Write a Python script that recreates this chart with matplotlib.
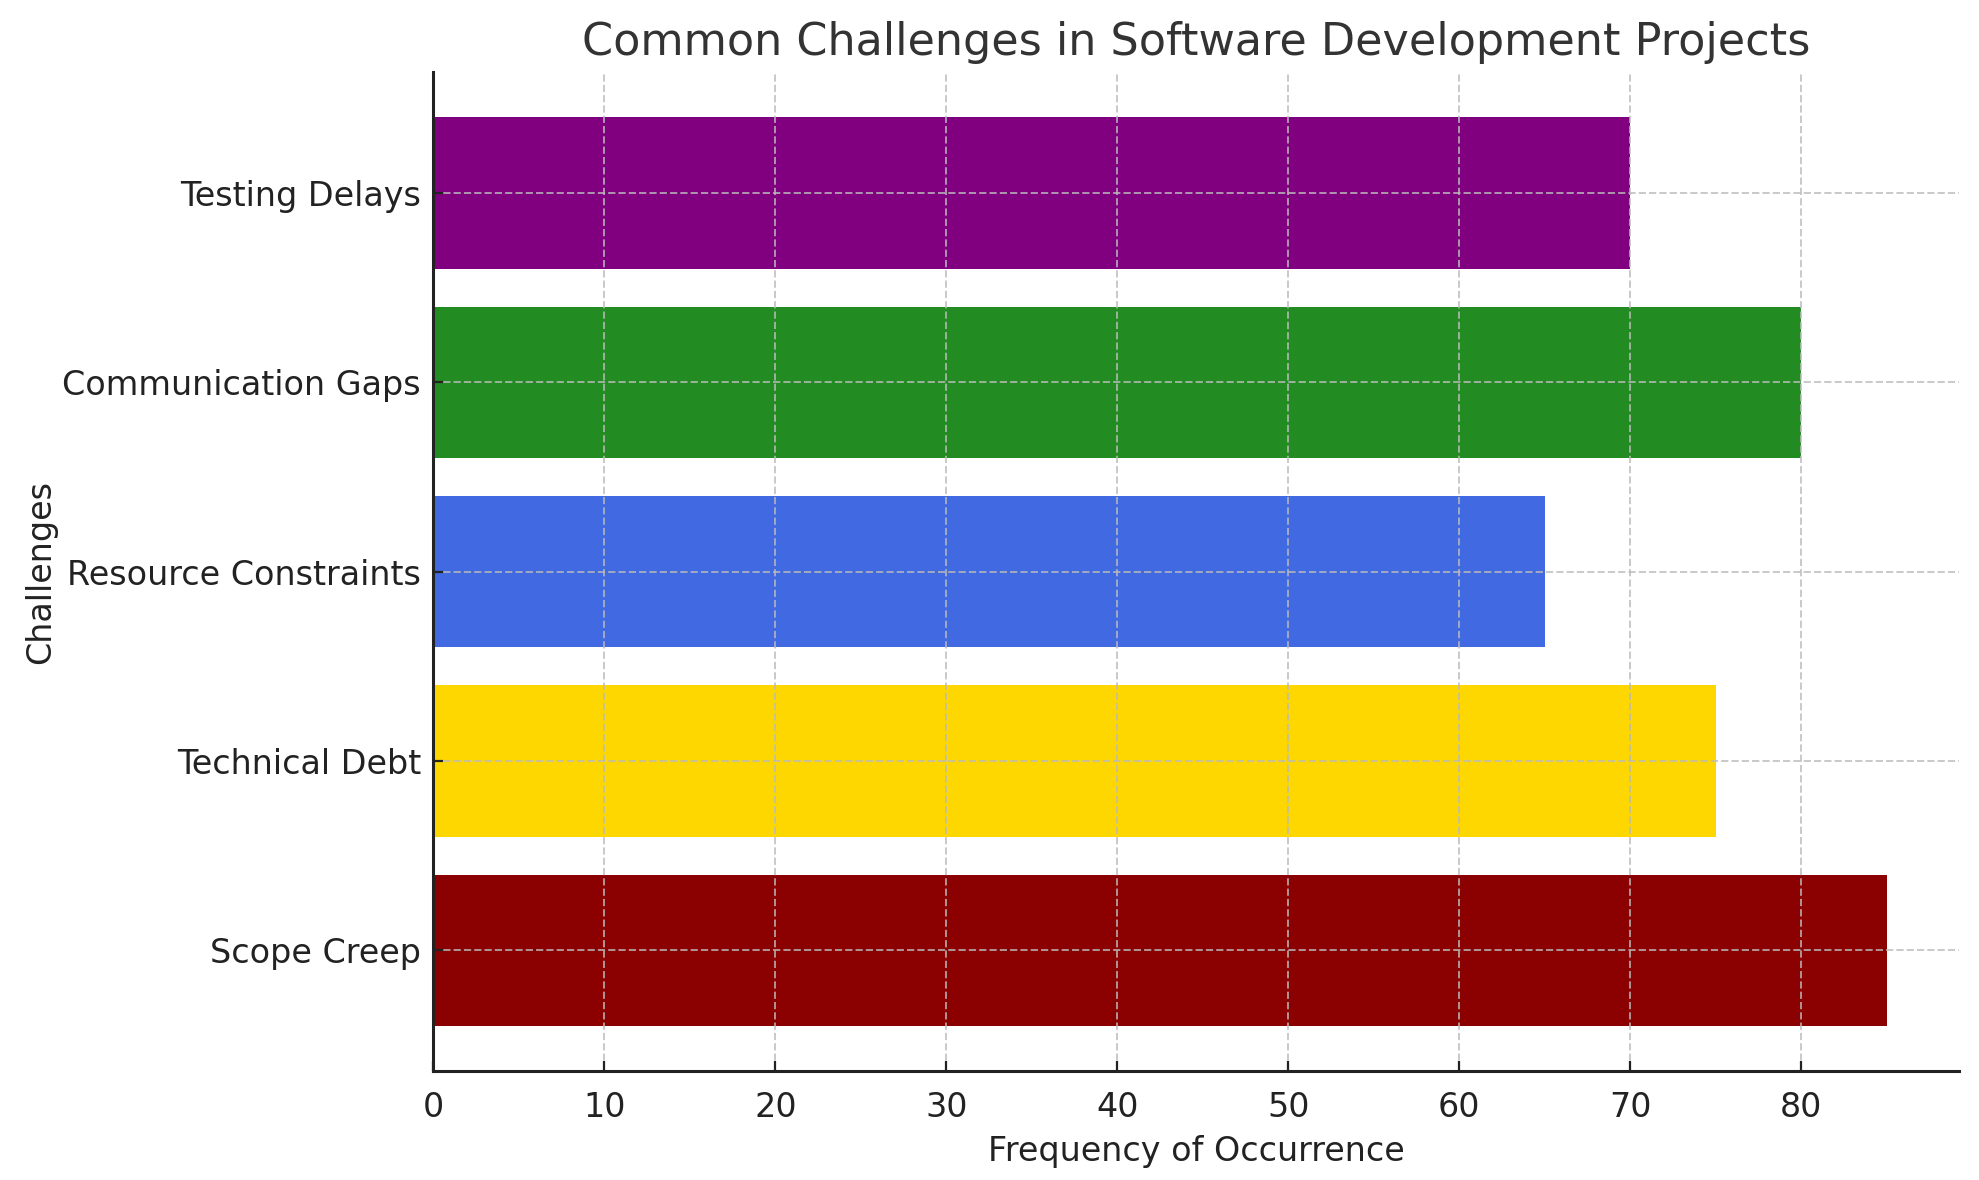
import matplotlib.pyplot as plt

challenges = ['Scope Creep', 'Technical Debt', 'Resource Constraints',
              'Communication Gaps', 'Testing Delays']
frequency = [85, 75, 65, 80, 70]
colors = ['darkred', 'gold', 'royalblue', 'forestgreen', 'purple']

fig, ax = plt.subplots(figsize=(9.895, 5.9), dpi=200)
fig.subplots_adjust(left=0.219, right=0.990, top=0.939, bottom=0.092)

ax.barh(challenges, frequency, color=colors, height=0.8)
ax.set_xlim(0, max(frequency) * 1.05)

ax.set_title('Common Challenges in Software Development Projects',
             fontsize=16, color='#333333')
ax.set_xlabel('Frequency of Occurrence', fontsize=12, color='#222222')
ax.set_ylabel('Challenges', fontsize=12, color='#222222', labelpad=2)
ax.tick_params(labelsize=12, colors='#222222', direction='in')
ax.tick_params(axis='y', pad=4.5)
ax.tick_params(axis='x', pad=7)

ax.spines['top'].set_visible(False)
ax.spines['right'].set_visible(False)
for side in ['left', 'bottom']:
    ax.spines[side].set_color('#222222')
    ax.spines[side].set_linewidth(1.1)
    ax.spines[side].set_zorder(5)

ax.set_axisbelow(False)
ax.grid(True, linestyle='--', color='#bbbbbb', alpha=0.8, linewidth=0.7)

fig.savefig('out.png')
